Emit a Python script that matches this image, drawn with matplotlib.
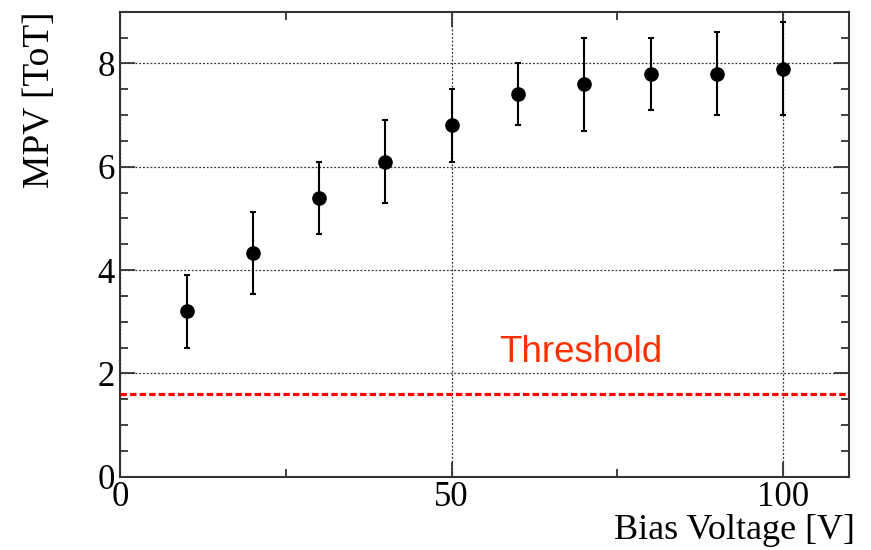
import matplotlib
matplotlib.use('Agg')
import matplotlib.pyplot as plt
from matplotlib.ticker import MultipleLocator

# MPV vs bias voltage
bias = [10, 20, 30, 40, 50, 60, 70, 80, 90, 100]
mpv = [3.2, 4.33, 5.4, 6.1, 6.8, 7.4, 7.6, 7.8, 7.8, 7.9]
mpv_err = [0.7, 0.8, 0.7, 0.8, 0.7, 0.6, 0.9, 0.7, 0.8, 0.9]
threshold = 1.6

serif = ['Liberation Serif', 'DejaVu Serif']

fig = plt.figure(figsize=(8.71, 5.5), dpi=100)
ax = fig.add_axes([0.1382, 0.1333, 0.8369, 0.8454])

ax.errorbar(bias, mpv, yerr=mpv_err, fmt='o', color='black', ms=9.5,
            elinewidth=1.5, capsize=2.5, capthick=1.5, zorder=4)
ax.axhline(threshold, color='#ff0000', lw=2.3, dashes=(2, 1), zorder=3)
ax.text(57.1, 2.22, 'Threshold', color='#ff3000', fontsize=26.5,
        family=['Liberation Sans', 'DejaVu Sans'])

ax.set_xlim(0, 110)
ax.set_ylim(0, 9)
ax.xaxis.set_major_locator(MultipleLocator(50))
ax.xaxis.set_minor_locator(MultipleLocator(25))
ax.yaxis.set_major_locator(MultipleLocator(2))
ax.yaxis.set_minor_locator(MultipleLocator(0.5))
ax.grid(True, which='major', color='#333333', lw=0.9, ls=(0, (1.5, 1.5)))
ax.set_axisbelow(True)

ax.tick_params(which='both', direction='in', top=True, right=True,
               color='#333333', width=1.3)
ax.tick_params(which='major', length=11)
ax.tick_params(which='minor', length=5.5)
ax.tick_params(axis='x', pad=3)
ax.tick_params(axis='y', pad=4)
for lab in ax.get_xticklabels() + ax.get_yticklabels():
    lab.set_family(serif)
    lab.set_fontsize(25)
for sp in ax.spines.values():
    sp.set_linewidth(1.5)
    sp.set_color('#333333')

ax.set_xlabel('Bias Voltage [V]', family=serif, fontsize=26, ha='right')
ax.xaxis.set_label_coords(1.008, -0.081)
ax.set_ylabel('MPV [ToT]', family=serif, fontsize=27, ha='right')
ax.yaxis.set_label_coords(-0.087, 1.0)

fig.savefig('out.png', dpi=100)
